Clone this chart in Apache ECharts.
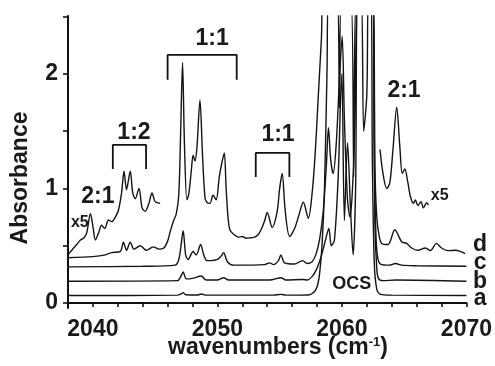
<!DOCTYPE html>
<html>
<head>
<meta charset="utf-8" />
<title></title>
<script src="https://cdn.jsdelivr.net/npm/echarts@6/dist/echarts.min.js"></script>
<style>html,body{margin:0;padding:0;background:#fff;}</style>
</head>
<body>
<div id="main" style="width:495px;height:366px;"></div>
<script>
// spectra: [wavenumber, absorbance]
var traceA = [
  [2038, 0.065], [2046.8, 0.068], [2047.1, 0.08], [2047.25, 0.09], [2047.45, 0.072], [2048.4, 0.07],
  [2048.7, 0.078], [2049.1, 0.068], [2054.5, 0.068], [2055.1, 0.075], [2055.5, 0.068], [2057.3, 0.07],
  [2057.7, 0.09], [2058.0, 0.14], [2058.2, 0.25], [2058.4, 0.5], [2058.6, 1.0], [2058.8, 2.0], [2058.95, 2.7],
  [2062.3, 2.7], [2062.45, 1.2], [2062.6, 0.35], [2062.8, 0.12], [2063.1, 0.075], [2064, 0.068], [2070, 0.065]
];
var traceB = [
  [2038, 0.19], [2046.8, 0.195], [2047.05, 0.23], [2047.25, 0.27], [2047.5, 0.21], [2048.0, 0.215],
  [2048.7, 0.235], [2049.1, 0.2], [2050.0, 0.2], [2050.5, 0.22], [2050.9, 0.2], [2054.2, 0.2],
  [2055.1, 0.22], [2055.5, 0.2], [2056.9, 0.205], [2057.2, 0.2], [2057.6, 0.23], [2057.9, 0.28],
  [2058.2, 0.36], [2058.45, 0.45], [2058.7, 0.56], [2058.95, 0.65], [2059.15, 0.5], [2059.4, 0.55],
  [2059.7, 1.1], [2059.9, 1.8], [2060.0, 2.0], [2060.2, 0.72], [2060.45, 1.4], [2060.7, 0.8],
  [2060.9, 0.42], [2061.1, 1.0], [2061.3, 2.7], [2062.5, 2.7], [2062.65, 0.7], [2062.8, 0.3],
  [2062.95, 0.21], [2063.3, 0.195], [2064.3, 0.2], [2070, 0.19]
];
var traceC = [
  [2038, 0.315], [2044, 0.32], [2046.6, 0.33], [2046.9, 0.38], [2047.1, 0.52], [2047.25, 0.63],
  [2047.45, 0.42], [2047.65, 0.38], [2048.05, 0.45], [2048.3, 0.42], [2048.65, 0.51], [2048.9, 0.42],
  [2049.15, 0.37], [2049.5, 0.37], [2050.0, 0.38], [2050.3, 0.41], [2050.5, 0.44], [2050.8, 0.36],
  [2051.3, 0.33], [2053.8, 0.335], [2054.2, 0.35], [2054.5, 0.335], [2054.9, 0.37], [2055.1, 0.42],
  [2055.4, 0.35], [2056.2, 0.34], [2056.85, 0.37], [2057.2, 0.345], [2057.6, 0.36], [2057.9, 0.42],
  [2058.2, 0.55], [2058.5, 0.8], [2058.75, 1.2], [2058.92, 1.53], [2059.1, 1.25], [2059.3, 1.13],
  [2059.55, 1.4], [2059.8, 1.95], [2060.02, 2.33], [2060.2, 1.6], [2060.45, 0.9], [2060.65, 0.75],
  [2060.85, 1.0], [2061.05, 1.6], [2061.25, 2.7], [2061.55, 2.7], [2061.75, 1.5], [2062.0, 1.82],
  [2062.15, 2.7], [2062.45, 2.7], [2062.6, 1.2], [2062.75, 0.55], [2062.9, 0.38], [2063.1, 0.34],
  [2063.8, 0.33], [2064.3, 0.345], [2064.8, 0.33], [2066, 0.325], [2070, 0.32]
];
var traceD = [
  [2038, 0.395], [2040, 0.405], [2041, 0.42], [2041.5, 0.44], [2042.2, 0.45], [2042.45, 0.53],
  [2042.7, 0.46], [2043.0, 0.53], [2043.3, 0.47], [2043.8, 0.5], [2044.3, 0.46], [2044.85, 0.49],
  [2045.3, 0.47], [2045.7, 0.48], [2046.0, 0.54], [2046.2, 0.62], [2046.45, 0.71], [2046.7, 0.78],
  [2046.9, 0.95], [2047.05, 1.5], [2047.2, 2.1], [2047.35, 1.4], [2047.55, 0.9], [2047.7, 0.95],
  [2047.9, 1.15], [2048.05, 1.29], [2048.2, 1.24], [2048.35, 1.35], [2048.6, 1.77], [2048.8, 1.3],
  [2049.0, 0.92], [2049.15, 0.88], [2049.4, 0.87], [2049.65, 0.94], [2049.9, 0.9], [2050.15, 1.1],
  [2050.35, 1.22], [2050.55, 1.31], [2050.7, 1.0], [2050.85, 0.75], [2051.0, 0.64], [2051.3, 0.6],
  [2051.7, 0.575], [2052.0, 0.58], [2052.3, 0.565], [2052.7, 0.57], [2053.0, 0.575], [2053.3, 0.6],
  [2053.55, 0.65], [2053.8, 0.72], [2054.0, 0.79], [2054.4, 0.66], [2054.8, 0.8], [2055.0, 1.0],
  [2055.2, 1.13], [2055.45, 0.8], [2055.8, 0.58], [2056.2, 0.65], [2056.5, 0.75], [2056.9, 0.88],
  [2057.3, 0.74], [2057.6, 0.95], [2057.85, 1.3], [2058.1, 1.8], [2058.35, 2.3], [2058.55, 2.7],
  [2059.6, 2.7], [2059.8, 1.7], [2059.95, 2.7], [2060.7, 2.7], [2060.95, 1.1], [2061.15, 2.7],
  [2062.5, 2.7], [2062.65, 1.2], [2062.8, 0.75], [2063.0, 0.58], [2063.2, 0.52], [2063.7, 0.51],
  [2064.25, 0.64], [2064.8, 0.535], [2065.2, 0.52], [2065.6, 0.48], [2066.1, 0.46], [2066.7, 0.48],
  [2067.1, 0.457], [2067.6, 0.52], [2068.0, 0.48], [2068.55, 0.457], [2069.1, 0.46], [2069.5, 0.45],
  [2069.9, 0.43]
];
// the x5 pieces of trace d
var x5Left = [
  [2038.0, 0.42], [2038.45, 0.48], [2038.7, 0.51], [2039.0, 0.55], [2039.25, 0.565], [2039.5, 0.61],
  [2039.8, 0.78], [2040.0, 0.67], [2040.2, 0.55], [2040.45, 0.61], [2040.7, 0.68], [2040.95, 0.65],
  [2041.25, 0.725], [2041.5, 0.71], [2041.8, 0.75], [2042.05, 0.81], [2042.3, 0.96], [2042.5, 1.15],
  [2042.7, 0.99], [2043.0, 1.15], [2043.2, 0.96], [2043.4, 0.91], [2043.7, 1.0], [2043.95, 0.83],
  [2044.2, 0.8], [2044.5, 0.87], [2044.75, 0.96], [2045.0, 0.885], [2045.4, 0.87]
];
var x5Right = [
  [2063.06, 1.34], [2063.3, 1.13], [2063.6, 1.0], [2063.85, 1.05], [2064.1, 1.34], [2064.4, 1.71],
  [2064.65, 1.37], [2064.85, 1.13], [2065.05, 1.17], [2065.3, 1.05], [2065.5, 0.93], [2065.75, 0.87],
  [2065.9, 0.9], [2066.1, 0.85], [2066.35, 0.885], [2066.55, 0.83], [2066.8, 0.875], [2066.95, 0.855]
];

var xTicks = [2040, 2050, 2060, 2070];
var yLabels = [0, 1, 2];
var yTicks = [0, 0.5, 1, 1.5, 2, 2.5];

// brackets: [x from, x to, top, leg end]
var brackets = [
  [2041.6, 2044.27, 1.38, 1.17],
  [2046.0, 2051.55, 2.166, 1.95],
  [2053.08, 2055.78, 1.31, 1.10]
];
// text notes: [text, x, y, size]
var notes = [
  ['1:1', 2049.57, 2.31, 23],
  ['1:2', 2043.3, 1.49, 23],
  ['2:1', 2040.4, 0.93, 23],
  ['x5', 2038.95, 0.70, 16],
  ['1:1', 2054.87, 1.47, 23],
  ['2:1', 2064.99, 1.85, 23],
  ['x5', 2067.85, 0.94, 16],
  ['OCS', 2060.8, 0.166, 18],
  ['d', 2071.1, 0.51, 23],
  ['c', 2071.1, 0.35, 23],
  ['b', 2071.1, 0.19, 23],
  ['a', 2071.1, 0.035, 23]
];

var font = '"Liberation Sans", Arial, sans-serif';
var ink = '#1a1a1a';
var chart = echarts.init(document.getElementById('main'));

function trace(data) {
  return {
    type: 'line', data: data, symbol: 'none', smooth: 0.3, silent: true,
    lineStyle: { color: '#141414', width: 1.4 }
  };
}
function bracket(b) {
  return {
    type: 'line', data: [[b[0], b[3]], [b[0], b[2]], [b[1], b[2]], [b[1], b[3]]],
    symbol: 'none', silent: true, lineStyle: { color: '#111', width: 1.8 }
  };
}

var series = [traceA, traceB, traceC, traceD, x5Left, x5Right].map(trace)
  .concat(brackets.map(bracket));

chart.setOption({
  animation: false,
  backgroundColor: '#fff',
  grid: { left: 68, right: 28, top: 16, bottom: 58 },
  xAxis: {
    type: 'value', min: 2038, max: 2070, interval: 2,
    axisLine: { lineStyle: { color: '#111', width: 2 } },
    axisTick: { length: 4, lineStyle: { color: '#111', width: 1.6 } },
    axisLabel: {
      margin: 10, color: ink, fontSize: 23, fontWeight: 'bold', fontFamily: font,
      formatter: function (v) { return xTicks.indexOf(v) >= 0 ? String(v) : ''; }
    },
    splitLine: { show: false }
  },
  yAxis: {
    type: 'value', min: -0.044, max: 2.506,
    axisLine: { show: true, lineStyle: { color: '#111', width: 2 } },
    axisTick: { show: true, length: 5, customValues: yTicks, lineStyle: { color: '#111', width: 1.6 } },
    axisLabel: { margin: 10, customValues: yLabels, color: ink, fontSize: 23, fontWeight: 'bold', fontFamily: font },
    splitLine: { show: false }
  },
  series: series
});

var graphics = notes.map(function (n) {
  var p = chart.convertToPixel({ gridIndex: 0 }, [n[1], n[2]]);
  return {
    type: 'text', x: p[0], y: p[1], silent: true,
    style: { text: n[0], fill: ink, font: 'bold ' + n[3] + 'px ' + font, align: 'center', verticalAlign: 'middle' }
  };
});
graphics.push({
  type: 'text', x: 278, y: 348, silent: true,
  style: {
    text: '{a|wavenumbers (cm}{s|-1}{a|)}', align: 'center', verticalAlign: 'middle',
    rich: {
      a: { fontSize: 23, fontWeight: 'bold', fontFamily: font, fill: ink, lineHeight: 25 },
      s: { fontSize: 13, fontWeight: 'bold', fontFamily: font, fill: ink, verticalAlign: 'top', lineHeight: 25 }
    }
  }
});
graphics.push({
  type: 'text', x: 21, y: 178, rotation: Math.PI / 2, silent: true,
  style: { text: 'Absorbance', fill: ink, font: 'bold 23px ' + font, align: 'center', verticalAlign: 'middle' }
});
chart.setOption({ graphic: graphics });
</script>
</body>
</html>
